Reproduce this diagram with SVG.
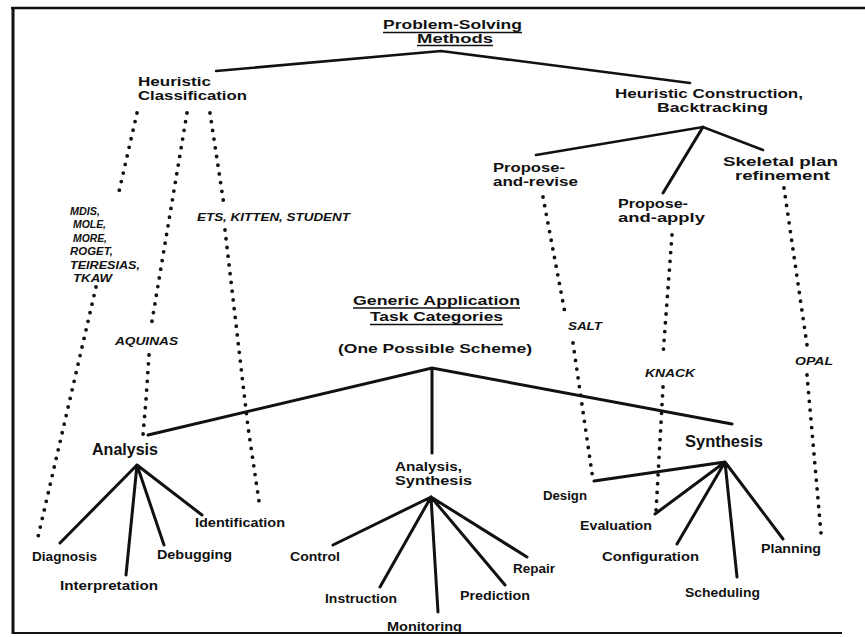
<svg xmlns="http://www.w3.org/2000/svg" width="865" height="637" viewBox="0 0 865 637">
  <style>
    text { font-family: "Liberation Sans", Arial, sans-serif; fill: #111; }
    .head { font-size: 13px; font-weight: 700; }
    .cat { font-size: 16px; font-weight: 700; }
    .cat2 { font-size: 13px; font-weight: 700; }
    .lbl { font-size: 12.5px; font-weight: 700; }
    .title { font-size: 13.5px; font-weight: 700; }
    .sys { font-size: 11.5px; font-weight: 700; font-style: italic; }
    .tree { stroke: #111; stroke-width: 3; fill: none; stroke-linecap: round; }
    .thin { stroke: #111; stroke-width: 2.5; fill: none; stroke-linecap: round; }
    .dots { stroke: #111; stroke-width: 3.8; fill: none; stroke-linecap: round; stroke-dasharray: 0 8.8; }
    .rule { stroke: #111; stroke-width: 1.6; }
    .frame { stroke: #111; fill: none; }
  </style>
  <rect width="865" height="637" fill="#fff"/>

  <!-- frame -->
  <g id="frame">
    <line class="frame" x1="11" y1="8" x2="865" y2="8" stroke-width="2.5"/>
    <line class="frame" x1="13" y1="7" x2="13" y2="634" stroke-width="3"/>
    <line class="frame" x1="12" y1="633" x2="842" y2="633" stroke-width="2"/>
  </g>

  <!-- connectors -->
  <g id="connectors">
    <!-- method hierarchy -->
    <path class="thin" d="M216,71 L441,51 L690,83"/>
    <path class="thin" d="M536,155 L703,127 L763,150"/>
    <path class="tree" d="M703,127 L663,193"/>
    <!-- category hierarchy -->
    <path class="tree" d="M148,435 L432,368 L732,424"/>
    <path class="tree" d="M432,369 L432,453"/>
    <!-- Analysis fan -->
    <path class="tree" d="M137,465 L60,543 M137,465 L126,575 M137,465 L164,545 M137,465 L202,515"/>
    <!-- Analysis, Synthesis fan -->
    <path class="tree" d="M431,497 L333,545 M431,497 L380,587 M431,497 L438,612 M431,497 L505,585 M431,497 L527,557"/>
    <!-- Synthesis fan -->
    <path class="tree" d="M725,462 L594,481 M725,462 L655,514 M725,462 L677,544 M725,462 L737,577 M725,462 L783,539"/>
    <!-- method-to-task dotted links -->
    <path class="dots" d="M137,113 L118,196"/>
    <path class="dots" d="M96,287 L38,537"/>
    <path class="dots" d="M187,113 L151,327"/>
    <path class="dots" d="M149,355 L146,400 L143,435"/>
    <path class="dots" d="M210,113 L224,205"/>
    <path class="dots" d="M225,230 L248,427 L260,508"/>
    <path class="dots" d="M543,197 L565,313"/>
    <path class="dots" d="M573,343 L593,480"/>
    <path class="dots" d="M672,235 L663,355"/>
    <path class="dots" d="M663,387 L656,512"/>
    <path class="dots" d="M784,188 L807,345"/>
    <path class="dots" d="M807,375 L821,533"/>
  </g>

  <g id="node-psm">
    <text class="title"><tspan x="383" y="29" textLength="139" lengthAdjust="spacingAndGlyphs">Problem-Solving</tspan><tspan x="417" y="43" textLength="76" lengthAdjust="spacingAndGlyphs">Methods</tspan></text>
    <line class="rule" x1="383" y1="32.5" x2="522" y2="32.5"/>
    <line class="rule" x1="417" y1="45.5" x2="493" y2="45.5"/>
  </g>

  <g id="node-heuristic-classification">
    <text class="head"><tspan x="138" y="86" textLength="73" lengthAdjust="spacingAndGlyphs">Heuristic</tspan><tspan x="138" y="100" textLength="109" lengthAdjust="spacingAndGlyphs">Classification</tspan></text>
  </g>

  <g id="node-heuristic-construction">
    <text class="head"><tspan x="615" y="98" textLength="188" lengthAdjust="spacingAndGlyphs">Heuristic Construction,</tspan><tspan x="657" y="112" textLength="111" lengthAdjust="spacingAndGlyphs">Backtracking</tspan></text>
  </g>

  <g id="node-propose-revise">
    <text class="head"><tspan x="493" y="172" textLength="72" lengthAdjust="spacingAndGlyphs">Propose-</tspan><tspan x="493" y="186" textLength="85" lengthAdjust="spacingAndGlyphs">and-revise</tspan></text>
  </g>

  <g id="node-propose-apply">
    <text class="head"><tspan x="618" y="207.5" textLength="70" lengthAdjust="spacingAndGlyphs">Propose-</tspan><tspan x="618" y="221.5" textLength="87" lengthAdjust="spacingAndGlyphs">and-apply</tspan></text>
  </g>

  <g id="node-skeletal">
    <text class="head"><tspan x="723" y="166" textLength="115" lengthAdjust="spacingAndGlyphs">Skeletal  plan</tspan><tspan x="735" y="180" textLength="95" lengthAdjust="spacingAndGlyphs">refinement</tspan></text>
  </g>

  <g id="systems">
    <text class="sys"><tspan x="70" y="215" textLength="30" lengthAdjust="spacingAndGlyphs">MDIS,</tspan><tspan x="73" y="228" textLength="33" lengthAdjust="spacingAndGlyphs">MOLE,</tspan><tspan x="73" y="242" textLength="34" lengthAdjust="spacingAndGlyphs">MORE,</tspan><tspan x="70" y="255" textLength="43" lengthAdjust="spacingAndGlyphs">ROGET,</tspan><tspan x="70" y="269" textLength="70" lengthAdjust="spacingAndGlyphs">TEIRESIAS,</tspan><tspan x="73" y="282" textLength="39" lengthAdjust="spacingAndGlyphs">TKAW</tspan></text>
    <text class="sys" x="197" y="221" textLength="153" lengthAdjust="spacingAndGlyphs">ETS, KITTEN, STUDENT</text>
    <text class="sys" x="115" y="345" textLength="63" lengthAdjust="spacingAndGlyphs">AQUINAS</text>
    <text class="sys" x="568" y="330" textLength="34" lengthAdjust="spacingAndGlyphs">SALT</text>
    <text class="sys" x="645" y="377" textLength="50" lengthAdjust="spacingAndGlyphs">KNACK</text>
    <text class="sys" x="795" y="365" textLength="38" lengthAdjust="spacingAndGlyphs">OPAL</text>
  </g>

  <g id="node-gatc">
    <text class="title"><tspan x="353" y="305" textLength="167" lengthAdjust="spacingAndGlyphs">Generic Application</tspan><tspan x="370" y="321" textLength="133" lengthAdjust="spacingAndGlyphs">Task Categories</tspan></text>
    <line class="rule" x1="353" y1="308" x2="520" y2="308"/>
    <line class="rule" x1="370" y1="324.5" x2="503" y2="324.5"/>
    <text class="title" x="338" y="353" textLength="194" lengthAdjust="spacingAndGlyphs">(One Possible Scheme)</text>
  </g>

  <g id="node-analysis">
    <text class="cat" x="92" y="455" textLength="66" lengthAdjust="spacingAndGlyphs">Analysis</text>
  </g>
  <g id="node-analysis-synthesis">
    <text class="cat2"><tspan x="395" y="470.5" textLength="67" lengthAdjust="spacingAndGlyphs">Analysis,</tspan><tspan x="395" y="484.5" textLength="77" lengthAdjust="spacingAndGlyphs">Synthesis</tspan></text>
  </g>
  <g id="node-synthesis">
    <text class="cat" x="685" y="447" textLength="78" lengthAdjust="spacingAndGlyphs">Synthesis</text>
  </g>

  <g id="node-diagnosis"><text class="lbl" x="32" y="561" textLength="65" lengthAdjust="spacingAndGlyphs">Diagnosis</text></g>
  <g id="node-interpretation"><text class="lbl" x="60" y="590" textLength="98" lengthAdjust="spacingAndGlyphs">Interpretation</text></g>
  <g id="node-debugging"><text class="lbl" x="157" y="559" textLength="75" lengthAdjust="spacingAndGlyphs">Debugging</text></g>
  <g id="node-identification"><text class="lbl" x="195" y="527" textLength="90" lengthAdjust="spacingAndGlyphs">Identification</text></g>

  <g id="node-control"><text class="lbl" x="290" y="561" textLength="50" lengthAdjust="spacingAndGlyphs">Control</text></g>
  <g id="node-instruction"><text class="lbl" x="325" y="603" textLength="72" lengthAdjust="spacingAndGlyphs">Instruction</text></g>
  <g id="node-monitoring"><text class="lbl" x="387" y="631" textLength="75" lengthAdjust="spacingAndGlyphs">Monitoring</text></g>
  <g id="node-prediction"><text class="lbl" x="460" y="600" textLength="70" lengthAdjust="spacingAndGlyphs">Prediction</text></g>
  <g id="node-repair"><text class="lbl" x="513" y="573" textLength="42" lengthAdjust="spacingAndGlyphs">Repair</text></g>

  <g id="node-design"><text class="lbl" x="543" y="500" textLength="44" lengthAdjust="spacingAndGlyphs">Design</text></g>
  <g id="node-evaluation"><text class="lbl" x="580" y="530" textLength="72" lengthAdjust="spacingAndGlyphs">Evaluation</text></g>
  <g id="node-configuration"><text class="lbl" x="602" y="561" textLength="97" lengthAdjust="spacingAndGlyphs">Configuration</text></g>
  <g id="node-scheduling"><text class="lbl" x="685" y="597" textLength="75" lengthAdjust="spacingAndGlyphs">Scheduling</text></g>
  <g id="node-planning"><text class="lbl" x="761" y="553" textLength="60" lengthAdjust="spacingAndGlyphs">Planning</text></g>
</svg>
